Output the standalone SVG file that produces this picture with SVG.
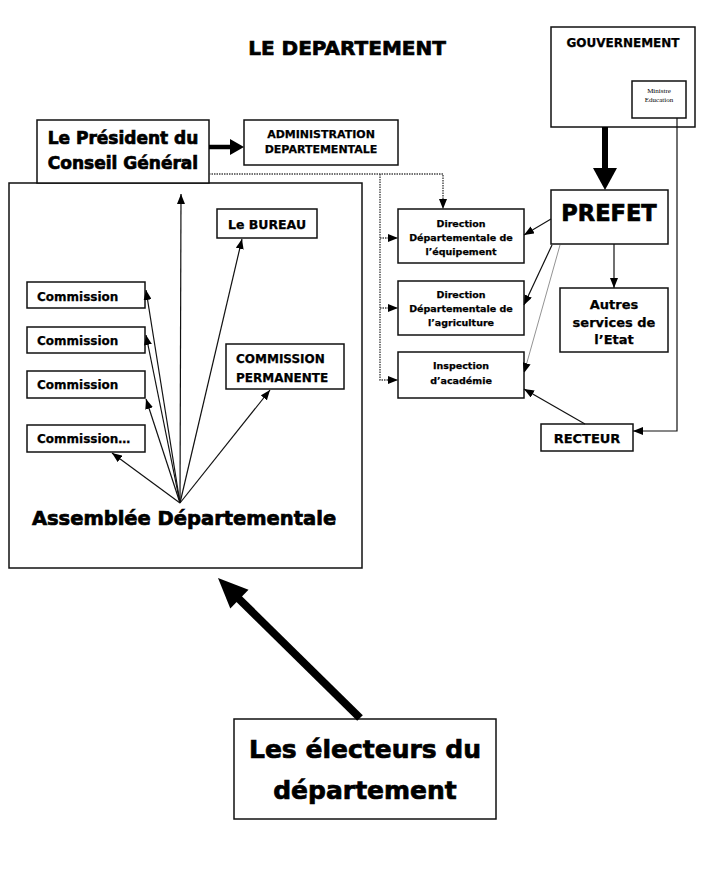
<svg xmlns="http://www.w3.org/2000/svg" width="709" height="890" viewBox="0 0 709 890">
<style>
  .box{fill:#fff;stroke:#111;stroke-width:1.5}
  .t{font-family:"DejaVu Sans","Liberation Sans",sans-serif;font-weight:bold;fill:#000;stroke:#000;stroke-width:0.25}
  .big{stroke-width:0.7}
  .c{text-anchor:middle}
  .ln{stroke:#111;stroke-width:1.2;fill:none}
  .dot{stroke:#444;stroke-width:1.4;stroke-dasharray:1.5 1;fill:none}
  .thin{stroke:#777;stroke-width:0.8;fill:none}
  .serif{font-family:"Liberation Serif","Times New Roman",serif;fill:#000}
</style>
<defs>
  <marker id="ah" markerUnits="userSpaceOnUse" markerWidth="10" markerHeight="8" refX="10" refY="4" orient="auto">
    <path d="M0,0 L10,4 L0,8 z" fill="#000"/>
  </marker>
</defs>
<rect width="709" height="890" fill="#fff"/>

<text class="t c big" x="347" y="55" font-size="20">LE DEPARTEMENT</text>

<g id="assemblee">
  <rect class="box" x="9" y="183" width="353" height="385"/>
  <text class="t c big" x="184" y="525" font-size="19.5">Assemblée Départementale</text>
</g>
<g id="president">
  <rect class="box" x="37" y="120" width="172" height="63"/>
  <text class="t c big" x="123" y="144" font-size="17">Le Président du</text>
  <text class="t c big" x="123" y="169" font-size="17">Conseil Général</text>
</g>
<g id="administration">
  <rect class="box" x="244" y="120" width="154" height="45"/>
  <text class="t c" x="321" y="138" font-size="11">ADMINISTRATION</text>
  <text class="t c" x="321" y="153" font-size="11">DEPARTEMENTALE</text>
</g>
<g id="bureau">
  <rect class="box" x="217" y="209" width="100" height="29"/>
  <text class="t c" x="267" y="228.5" font-size="12.5">Le BUREAU</text>
</g>
<g id="commission1">
  <rect class="box" x="27" y="282" width="118" height="26"/>
  <text class="t" x="37" y="300.5" font-size="12">Commission</text>
</g>
<g id="commission2">
  <rect class="box" x="27" y="327" width="118" height="26"/>
  <text class="t" x="37" y="344.5" font-size="12">Commission</text>
</g>
<g id="commission3">
  <rect class="box" x="27" y="371" width="118" height="27"/>
  <text class="t" x="37" y="388.5" font-size="12">Commission</text>
</g>
<g id="commission4">
  <rect class="box" x="27" y="425" width="118" height="27"/>
  <text class="t" x="37" y="442.5" font-size="12">Commission…</text>
</g>
<g id="commission-permanente">
  <rect class="box" x="226" y="344" width="118" height="45"/>
  <text class="t" x="236" y="362.5" font-size="12">COMMISSION</text>
  <text class="t" x="236" y="381.5" font-size="12">PERMANENTE</text>
</g>
<g id="electeurs">
  <rect class="box" x="234" y="719" width="262" height="100"/>
  <text class="t c big" x="365" y="758" font-size="25">Les électeurs du</text>
  <text class="t c big" x="365" y="799" font-size="25">département</text>
</g>
<g id="gouvernement">
  <rect class="box" x="551" y="27" width="144" height="100"/>
  <text class="t c" x="623" y="46.5" font-size="12">GOUVERNEMENT</text>
</g>
<g id="ministre">
  <rect class="box" x="632" y="81" width="54" height="37" stroke-width="1.2"/>
  <text class="serif c" x="659" y="93" font-size="7">Ministre</text>
  <text class="serif c" x="659" y="102" font-size="7">Education</text>
</g>
<g id="prefet">
  <rect class="box" x="551" y="190" width="117" height="54"/>
  <text class="t c big" x="609" y="221" font-size="22.5">PREFET</text>
</g>
<g id="autres">
  <rect class="box" x="560" y="288" width="108" height="64"/>
  <text class="t c" x="614" y="309" font-size="13">Autres</text>
  <text class="t c" x="614" y="327" font-size="13">services de</text>
  <text class="t c" x="614" y="344" font-size="13">l’Etat</text>
</g>
<g id="dde">
  <rect class="box" x="398" y="209" width="126" height="54"/>
  <text class="t c" x="461" y="226.5" font-size="9.5">Direction</text>
  <text class="t c" x="461" y="240.5" font-size="9.5">Départementale de</text>
  <text class="t c" x="461" y="254.5" font-size="9.5">l’équipement</text>
</g>
<g id="dda">
  <rect class="box" x="398" y="281" width="126" height="54"/>
  <text class="t c" x="461" y="297.5" font-size="9.5">Direction</text>
  <text class="t c" x="461" y="311.5" font-size="9.5">Départementale de</text>
  <text class="t c" x="461" y="325.5" font-size="9.5">l’agriculture</text>
</g>
<g id="inspection">
  <rect class="box" x="398" y="352" width="126" height="46"/>
  <text class="t c" x="461" y="368.5" font-size="9.5">Inspection</text>
  <text class="t c" x="461" y="383.5" font-size="9.5">d’académie</text>
</g>
<g id="recteur">
  <rect class="box" x="541" y="424" width="92" height="27"/>
  <text class="t c" x="587" y="442.5" font-size="13">RECTEUR</text>
</g>

<g id="connectors">
  <line x1="209" y1="147" x2="231" y2="147" stroke="#000" stroke-width="4.5"/>
  <polygon points="230,139 244,147 230,155" fill="#000"/>
  <line x1="605" y1="127" x2="605" y2="169" stroke="#000" stroke-width="6"/>
  <polygon points="593,168 617,168 605,190" fill="#000"/>
  <line x1="360" y1="718" x2="238" y2="598" stroke="#000" stroke-width="8"/>
  <polygon points="218,578 248.5,589.8 230.3,608.4" fill="#000"/>

  <line class="ln" x1="180" y1="503" x2="181" y2="194" marker-end="url(#ah)"/>
  <line class="ln" x1="180" y1="503" x2="242" y2="239" marker-end="url(#ah)"/>
  <line class="ln" x1="180" y1="503" x2="146" y2="290" marker-end="url(#ah)"/>
  <line class="ln" x1="180" y1="503" x2="146" y2="335" marker-end="url(#ah)"/>
  <line class="ln" x1="180" y1="503" x2="146" y2="399" marker-end="url(#ah)"/>
  <line class="ln" x1="180" y1="503" x2="112" y2="453" marker-end="url(#ah)"/>
  <line class="ln" x1="180" y1="503" x2="270" y2="390" marker-end="url(#ah)"/>

  <path class="dot" d="M209,174 H443 V209" marker-end="url(#ah)"/>
  <path class="dot" d="M380,174 V380 H398" marker-end="url(#ah)"/>
  <path class="dot" d="M380,238 H398" marker-end="url(#ah)"/>
  <path class="dot" d="M380,308 H398" marker-end="url(#ah)"/>

  <line class="ln" x1="551" y1="219" x2="524" y2="235" marker-end="url(#ah)"/>
  <line class="ln" x1="552" y1="245" x2="524" y2="305" marker-end="url(#ah)"/>
  <line class="thin" x1="560" y1="245" x2="524" y2="373" marker-end="url(#ah)"/>
  <line class="ln" x1="614" y1="244" x2="614" y2="288" marker-end="url(#ah)"/>
  <line class="ln" x1="585" y1="424" x2="524" y2="389" marker-end="url(#ah)"/>
  <path class="ln" d="M677,118 V431 H633" marker-end="url(#ah)"/>
</g>
</svg>
